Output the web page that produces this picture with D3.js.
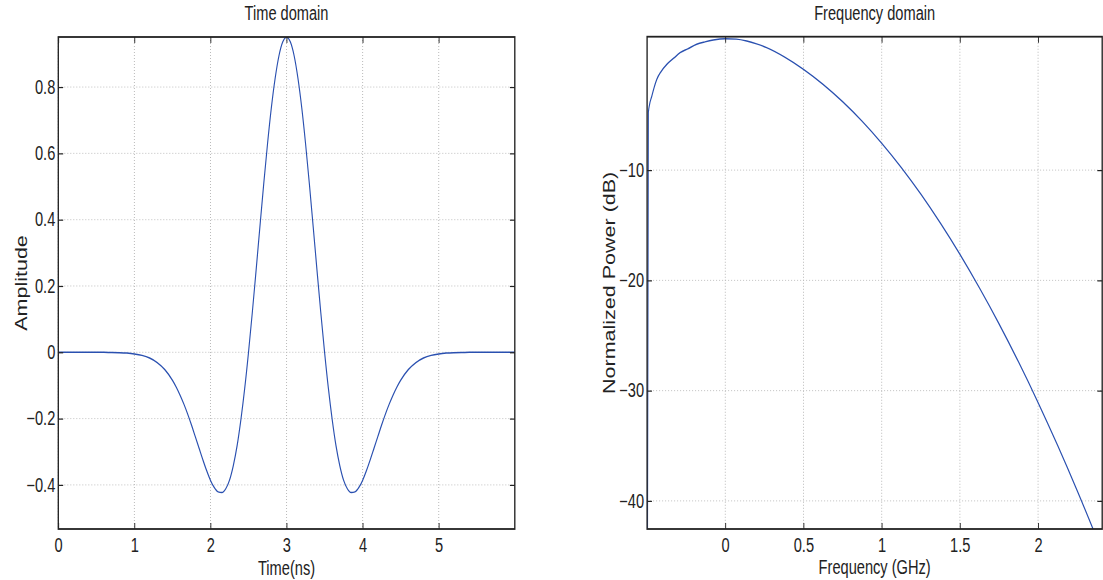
<!DOCTYPE html>
<html>
<head>
<meta charset="utf-8">
<script src="https://cdn.jsdelivr.net/npm/d3@7"></script>
<style>
  html, body { margin: 0; padding: 0; background: #ffffff; }
  svg { display: block; }
</style>
</head>
<body>
<script>
// ---------------- DATA ----------------
const timeNs = [0,0.1,0.2,0.3,0.4,0.5,0.6,0.7,0.8,0.9,1.0,1.1,1.2,1.3,1.4,1.5,
  1.55,1.6,1.65,1.7,1.75,1.8,1.85,1.9,1.95,2.0,2.05,2.1,2.15,2.2,2.25,2.3,2.35,2.4,2.45,2.5,
  2.55,2.6,2.65,2.7,2.75,2.8,2.85,2.9,2.95,3.0,
  3.05,3.1,3.15,3.2,3.25,3.3,3.35,3.4,3.45,3.5,3.55,3.6,3.65,3.7,3.75,3.8,3.85,3.9,3.95,4.0,
  4.05,4.1,4.15,4.2,4.25,4.3,4.35,4.4,4.45,4.5,
  4.6,4.7,4.8,4.9,5.0,5.1,5.2,5.3,5.4,5.5,5.6,5.7,5.8,5.9,6.0];
const amplitude = [0,0,0,0,0,-0.0001,-0.0002,-0.0005,-0.0011,-0.0023,-0.0048,-0.0093,-0.0174,-0.031,-0.0524,-0.0844,
  -0.105,-0.129,-0.156,-0.186,-0.219,-0.254,-0.289,-0.324,-0.357,-0.386,-0.408,-0.421,-0.423,-0.412,-0.386,-0.342,-0.282,-0.203,-0.109,0,
  0.120,0.248,0.379,0.508,0.629,0.737,0.826,0.894,0.936,0.95,
  0.936,0.894,0.826,0.737,0.629,0.508,0.379,0.248,0.120,0,-0.109,-0.203,-0.282,-0.342,-0.386,-0.412,-0.423,-0.421,-0.408,-0.386,
  -0.357,-0.324,-0.289,-0.254,-0.219,-0.186,-0.156,-0.129,-0.105,-0.0844,
  -0.0524,-0.031,-0.0174,-0.0093,-0.0048,-0.0023,-0.0011,-0.0005,-0.0002,-0.0001,0,0,0,0,0];

const freqGHz = [-0.5,-0.492,-0.485,-0.47,-0.455,-0.438,-0.41,-0.374,-0.33,-0.289,-0.24,-0.183,-0.13,-0.077,0,
  0.07,0.137,0.2,0.264,0.38,0.5,0.625,0.75,0.875,1.0,1.125,1.25,1.375,1.5,1.625,1.75,1.875,2.0,2.125,2.25,2.375,2.5];
const powerDb = [-60,-4.8,-4.1,-3.3,-2.5,-1.77,-1.05,-0.41,0.15,0.65,1.0,1.41,1.63,1.8,1.92,
  1.88,1.71,1.45,1.11,0.25,-0.86,-2.22,-3.79,-5.57,-7.56,-9.76,-12.17,-14.80,-17.63,-20.68,-23.93,-27.40,-31.08,-34.97,-39.07,-43.38,-47.9];

const timeTicks = [0,1,2,3,4,5];
const ampTicks = [-0.4,-0.2,0,0.2,0.4,0.6,0.8];
const freqTicks = [0,0.5,1,1.5,2];
const powerTicks = [-40,-30,-20,-10];

const titles = ["Time domain", "Frequency domain"];
const xLabels = ["Time(ns)", "Frequency (GHz)"];
const yLabels = ["Amplitude", "Normalized Power (dB)"];

// ---------------- LAYOUT ----------------
const SX = 0.75;               // horizontal squeeze of the original figure
const ix = v => v / SX;        // screen x -> internal x
const FONT = "'Liberation Sans', Arial, Helvetica, sans-serif";
const LINE = "#2a50b0";

const svg = d3.select("body").append("svg").attr("width", 1103).attr("height", 580);
const root = svg.append("g").attr("transform", `scale(${SX},1)`);

const fmt = d => (d < 0 ? "\u2212" + Math.abs(d) : String(d));

function panel(o) {
  const x = d3.scaleLinear().domain(o.xDomain).range([ix(o.left), ix(o.right)]);
  const y = d3.scaleLinear().domain(o.yDomain).range([o.bottom, o.top]);
  const g = root.append("g");
  const id = "clip" + o.id;
  g.append("clipPath").attr("id", id).append("rect")
    .attr("x", x.range()[0]).attr("y", o.top)
    .attr("width", x.range()[1] - x.range()[0]).attr("height", o.bottom - o.top);

  // grid
  g.append("g").selectAll("line").data(o.xTicks).join("line")
    .attr("x1", d => x(d)).attr("x2", d => x(d))
    .attr("y1", o.top).attr("y2", o.bottom)
    .attr("stroke", "#b8b8b8").attr("stroke-width", 1.3)
    .attr("stroke-dasharray", "1,2");
  g.append("g").selectAll("line").data(o.yTicks).join("line")
    .attr("x1", x.range()[0]).attr("x2", x.range()[1])
    .attr("y1", d => y(d)).attr("y2", d => y(d))
    .attr("stroke", "#b8b8b8").attr("stroke-width", 1)
    .attr("stroke-dasharray", "1.33,2.67");

  // curve
  const pts = o.xs.map((v, i) => [v, o.ys[i]]);
  g.append("path").datum(pts)
    .attr("clip-path", `url(#${id})`)
    .attr("fill", "none").attr("stroke", LINE).attr("stroke-width", 1.5)
    .attr("d", d3.line().x(d => x(d[0])).y(d => y(d[1])).curve(d3.curveMonotoneX));

  // axes (ticks inward on all four sides)
  const styleAxis = sel => {
    sel.select(".domain").remove();
    sel.selectAll("line").attr("stroke", "#222").attr("stroke-width", 1.2);
    sel.selectAll("text").attr("fill", "#222").style("font-family", FONT).style("font-size", "19.5px");
  };
  g.append("g").attr("transform", `translate(0,${o.bottom})`)
    .call(d3.axisBottom(x).tickValues(o.xTicks).tickSize(-6).tickPadding(9).tickFormat(fmt)).call(styleAxis);
  g.append("g").attr("transform", `translate(0,${o.top})`)
    .call(d3.axisTop(x).tickValues(o.xTicks).tickSize(-6).tickFormat("")).call(styleAxis);
  g.append("g").attr("transform", `translate(${x.range()[0]},0)`)
    .call(d3.axisLeft(y).tickValues(o.yTicks).tickSize(-6.5).tickPadding(4).tickFormat(fmt)).call(styleAxis);
  g.append("g").attr("transform", `translate(${x.range()[1]},0)`)
    .call(d3.axisRight(y).tickValues(o.yTicks).tickSize(-6.5).tickFormat("")).call(styleAxis);

  // frame
  g.append("rect").attr("x", x.range()[0]).attr("y", o.top)
    .attr("width", x.range()[1] - x.range()[0]).attr("height", o.bottom - o.top)
    .attr("fill", "none").attr("stroke", "#222").attr("stroke-width", 1.8);

  const cx = (x.range()[0] + x.range()[1]) / 2;
  g.append("text").attr("x", cx).attr("y", 20).attr("text-anchor", "middle")
    .style("font-family", FONT).style("font-size", "19.5px").attr("fill", "#222").text(o.title);
  g.append("text").attr("x", cx).attr("y", o.xLabelY).attr("text-anchor", "middle")
    .style("font-family", FONT).style("font-size", "19.5px").attr("fill", "#222").text(o.xLabel);
  g.append("text").attr("transform", `translate(${ix(o.yLabelX)},${(o.top + o.bottom) / 2}) rotate(-90)`)
    .attr("text-anchor", "middle")
    .style("font-family", FONT).style("font-size", "21.5px").attr("fill", "#222").text(o.yLabel);
}

panel({
  id: "L", left: 58.3, right: 514.8, top: 37, bottom: 529,
  xDomain: [0, 6], yDomain: [-0.533, 0.951],
  xTicks: timeTicks, yTicks: ampTicks, xs: timeNs, ys: amplitude,
  title: titles[0], xLabel: xLabels[0], yLabel: yLabels[0], xLabelY: 575, yLabelX: 26.5
});
panel({
  id: "R", left: 647.1, right: 1102.2, top: 36.7, bottom: 529,
  xDomain: [-0.5, 2.41], yDomain: [-42.55, 2.1],
  xTicks: freqTicks, yTicks: powerTicks, xs: freqGHz, ys: powerDb,
  title: titles[1], xLabel: xLabels[1], yLabel: yLabels[1], xLabelY: 574, yLabelX: 615
});
</script>
</body>
</html>
